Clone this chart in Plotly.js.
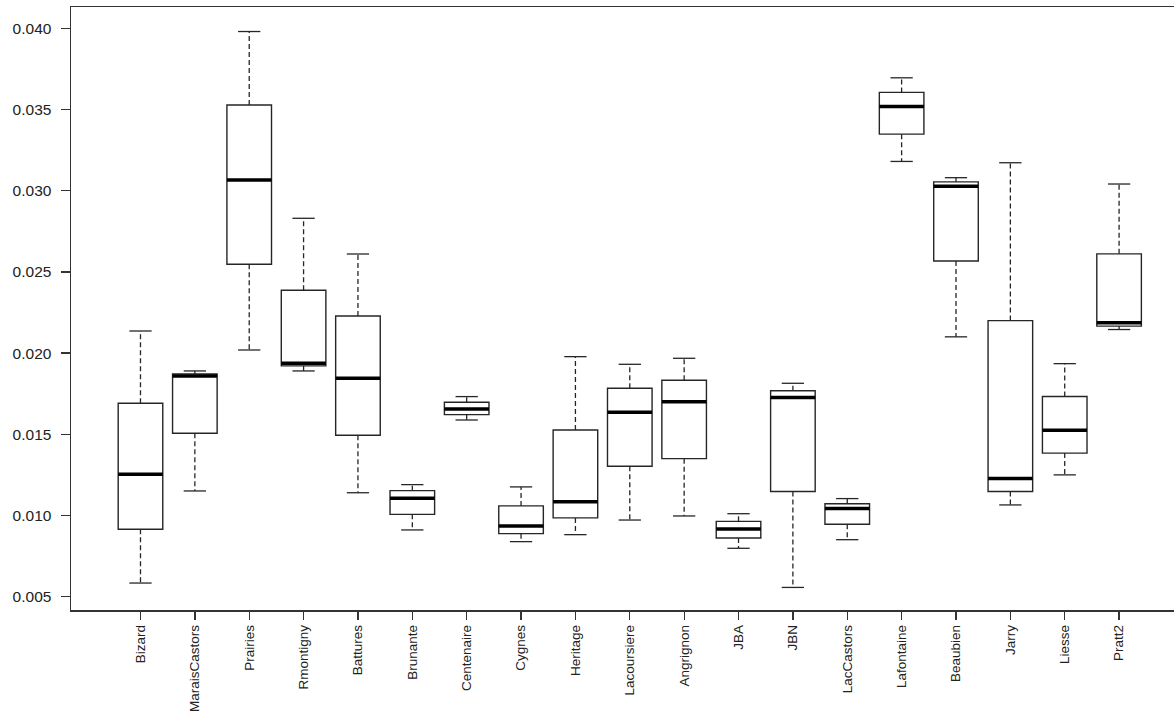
<!DOCTYPE html>
<html><head><meta charset="utf-8">
<script src="https://cdn.plot.ly/plotly-3.0.1.min.js"></script>
<style>html,body{margin:0;padding:0;background:#fff}#chart{width:1174px;height:715px}</style>
</head><body><div id="chart"></div>
<script>
const sites = ["Bizard","MaraisCastors","Prairies","Rmontigny","Battures","Brunante","Centenaire","Cygnes","Heritage","Lacoursiere","Angrignon","JBA","JBN","LacCastors","Lafontaine","Beaubien","Jarry","Liesse","Pratt2"];
const lowerWhisker = [0.00584,0.01151,0.02019,0.0189,0.0114,0.00911,0.01588,0.00839,0.00882,0.00972,0.00997,0.00798,0.00557,0.00851,0.0318,0.0210,0.01065,0.0125,0.02145];
const q1 =           [0.00915,0.01506,0.02547,0.01921,0.01494,0.01007,0.01621,0.00888,0.00985,0.01303,0.0135,0.00861,0.01148,0.00946,0.03348,0.02567,0.01148,0.01384,0.02166];
const median =       [0.01254,0.01859,0.03066,0.01937,0.01845,0.01106,0.01656,0.00935,0.01085,0.01635,0.01701,0.00917,0.01726,0.01043,0.03518,0.03027,0.01228,0.01525,0.02186];
const q3 =           [0.01691,0.01871,0.03528,0.02387,0.02228,0.01153,0.01697,0.01059,0.01526,0.01783,0.01833,0.00964,0.01768,0.01072,0.03605,0.03054,0.022,0.01733,0.02611];
const upperWhisker = [0.02136,0.0189,0.0398,0.0283,0.0261,0.0119,0.01732,0.01176,0.01978,0.01931,0.01968,0.01011,0.01814,0.01104,0.03695,0.0308,0.03172,0.01935,0.03041];
const yTicks = [0.005,0.010,0.015,0.020,0.025,0.030,0.035,0.040];

const idx = sites.map((s,i)=>i);
const boxW = 0.82, capW = 0.41;
const lineCol = '#262626';

const boxTrace = {
  type:'box', x: idx, q1: q1, median: median, q3: q3,
  lowerfence: lowerWhisker, upperfence: upperWhisker,
  width: boxW, whiskerwidth: 0, showwhiskers: false, boxpoints: false,
  line:{color:lineCol, width:1.4}, fillcolor:'rgba(255,255,255,0)',
  hoverinfo:'skip'
};
const wx=[], wy=[], cx=[], cy=[], mx=[], my=[];
idx.forEach(i=>{
  wx.push(i,i,null,i,i,null);
  wy.push(q3[i],upperWhisker[i],null,q1[i],lowerWhisker[i],null);
  cx.push(i-capW/2,i+capW/2,null,i-capW/2,i+capW/2,null);
  cy.push(upperWhisker[i],upperWhisker[i],null,lowerWhisker[i],lowerWhisker[i],null);
  mx.push(i-boxW/2,i+boxW/2,null);
  my.push(median[i],median[i],null);
});
const whisk = {type:'scatter', mode:'lines', x:wx, y:wy, line:{color:lineCol,width:1.3,dash:'5px,3px'}, hoverinfo:'skip'};
const caps = {type:'scatter', mode:'lines', x:cx, y:cy, line:{color:lineCol,width:1.3}, hoverinfo:'skip'};
const meds = {type:'scatter', mode:'lines', x:mx, y:my, line:{color:'#000',width:3.5}, hoverinfo:'skip'};

const layout = {
  width:1174, height:715, showlegend:false,
  paper_bgcolor:'#fff', plot_bgcolor:'#fff',
  margin:{l:71, r:0, t:7, b:105},
  font:{family:'Liberation Sans, Arial, sans-serif', color:'#222'},
  xaxis:{range:[-1.278,19.01], tickmode:'array', tickvals:idx, ticktext:sites, tickangle:-90,
    ticks:'outside', ticklen:8, tickwidth:1.3, tickcolor:'#333', showline:true, linecolor:'#333', linewidth:1.5,
    mirror:true, showgrid:false, zeroline:false, tickfont:{size:13.5, color:'#222'}},
  yaxis:{range:[0.00418,0.04131], tickmode:'array', tickvals:yTicks, tickformat:'.3f',
    ticks:'outside', ticklen:9, tickwidth:1.3, tickcolor:'#333', showline:true, linecolor:'#333', linewidth:1.5,
    mirror:false, showgrid:false, zeroline:false, ticklabelstandoff:6, tickfont:{size:15.5, color:'#222'}}
};
Plotly.newPlot('chart',[boxTrace, whisk, caps, meds], layout, {displayModeBar:false, staticPlot:true});
</script></body></html>
